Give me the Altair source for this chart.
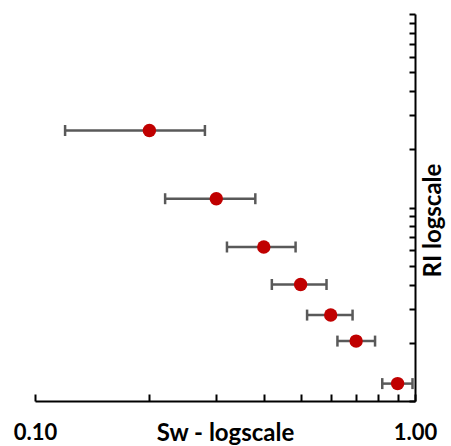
import altair as alt
import pandas as pd

# Data
sw = [0.2, 0.3, 0.4, 0.5, 0.6, 0.7, 0.9]
ri = [25.0, 11.1, 6.25, 4.0, 2.78, 2.04, 1.23]
sw_low = [0.12, 0.22, 0.32, 0.42, 0.52, 0.625, 0.82]
sw_high = [0.28, 0.38, 0.485, 0.585, 0.685, 0.785, 0.985]

x_ticks = [0.1, 0.2, 0.3, 0.4, 0.5, 0.6, 0.7, 0.8, 0.9, 1.0]
y_ticks = [1, 2, 3, 4, 5, 6, 7, 8, 9, 10, 20, 30, 40, 50, 60, 70, 80, 90, 100]

x_title = "Sw - logscale"
y_title = "RI logscale"

df = pd.DataFrame({"sw": sw, "ri": ri, "lo": sw_low, "hi": sw_high})
caps = pd.DataFrame({"x": sw_low + sw_high, "y": ri + ri})

W, H = 380, 387
FONT = "Lato"
GREY = "#595959"
RED = "#C00000"

xs = alt.Scale(type="log", domain=[0.1, 1.0])
ys = alt.Scale(type="log", domain=[1, 100])

# Layer that draws only the axis lines and titles
frame = alt.Chart(df).mark_point(opacity=0).encode(
    x=alt.X("sw:Q", scale=xs, axis=alt.Axis(
        orient="bottom", domain=True, domainColor="black", domainWidth=2,
        ticks=False, labels=False, grid=False,
        title=x_title, titleFont=FONT, titleFontSize=24, titleFontWeight="bold",
        titleColor="black", titleX=W / 2, titleY=39, titleAlign="center",
        titleBaseline="alphabetic")),
    y=alt.Y("ri:Q", scale=ys, axis=alt.Axis(
        orient="right", domain=True, domainColor="black", domainWidth=2,
        ticks=False, labels=False, grid=False,
        title=y_title, titleFont=FONT, titleFontSize=24, titleFontWeight="bold",
        titleColor="black", titleAngle=270, titleX=18, titleY=206,
        titleAlign="center", titleBaseline="middle")),
)

# Layer that draws the inward ticks and the tick labels
tickaxes = alt.Chart(df).mark_point(opacity=0).encode(
    x=alt.X("sw:Q", scale=xs, axis=alt.Axis(
        orient="bottom", offset=-7, values=x_ticks, tickSize=7, tickWidth=2,
        tickColor="black", domain=False, grid=False,
        labelExpr="(datum.value < 0.15 || datum.value > 0.95) ? format(datum.value, '.2f') : ''",
        labelFont=FONT, labelFontSize=22, labelFontWeight="bold", labelColor="black",
        labelPadding=38, labelBaseline="alphabetic", labelFlush=False,
        labelOverlap=False, title="")),
    y=alt.Y("ri:Q", scale=ys, axis=alt.Axis(
        orient="right", offset=-6, values=y_ticks, tickSize=6, tickWidth=2,
        tickColor="black", domain=False, grid=False, labels=False, title="")),
)

bars = alt.Chart(df).mark_rule(color=GREY, strokeWidth=2.5).encode(
    x=alt.X("lo:Q", scale=xs, axis=None),
    x2="hi:Q",
    y=alt.Y("ri:Q", scale=ys, axis=None),
)

capmarks = alt.Chart(caps).mark_tick(color=GREY, orient="vertical", size=11,
                                     thickness=2.5, opacity=1).encode(
    x=alt.X("x:Q", scale=xs, axis=None),
    y=alt.Y("y:Q", scale=ys, axis=None),
)

points = alt.Chart(df).mark_circle(color=RED, size=180, opacity=1).encode(
    x=alt.X("sw:Q", scale=xs, axis=None),
    y=alt.Y("ri:Q", scale=ys, axis=None),
)

chart = alt.layer(frame, tickaxes, bars, capmarks, points).resolve_axis(
    x="independent", y="independent"
).properties(
    width=W, height=H,
    background="white",
    autosize=alt.AutoSizeParams(type="none"),
    padding={"left": 35, "top": 14, "right": 36, "bottom": 45},
).configure_view(stroke="transparent", strokeWidth=0)

chart.save("out.html", embed_options={"renderer": "svg", "actions": False})
